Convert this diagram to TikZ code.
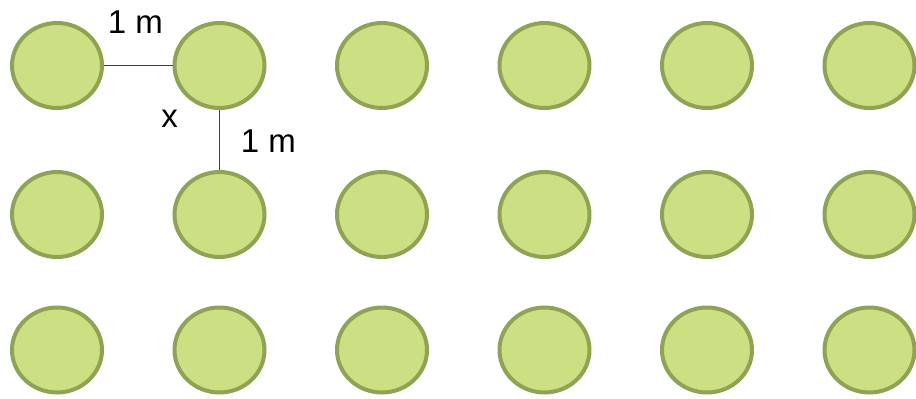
\documentclass[tikz,border=0pt]{standalone}
\usepackage{fontspec}
\setmainfont{Liberation Sans}
\usetikzlibrary{shapes.geometric}
\definecolor{leaf}{RGB}{205,223,131}
\definecolor{rim}{RGB}{143,163,84}
\definecolor{stem}{RGB}{36,82,52}

\begin{document}
\begin{tikzpicture}[x=1pt,y=-1pt,
        plant/.style={ellipse, draw=rim, fill=leaf, line width=4pt, minimum width=90pt, minimum height=85pt, inner sep=0pt},
        dim/.style={draw=stem, line width=1.5pt},
        lbl/.style={anchor=base, font=\fontsize{33}{38}\selectfont}]
        \useasboundingbox (0,0) rectangle (916,399);

        % Plants
        \foreach \r/\y in {1/65.5, 2/214.5, 3/350} {
            \foreach \c in {1,...,6} {
                \node[plant] (P\r\c) at ({57+162.5*(\c-1)}, \y) {};
            }
        }

        % Distances
        \draw[dim] (P11) -- (P12);
        \draw[dim] (P12) -- (P22);
        \node[lbl] (D1) at (135.5, 33) {1 m};
        \node[lbl] (D2) at (268.5, 152) {1 m};
        \node[lbl] (X) at (169.5, 127) {x};
\end{tikzpicture}
\end{document}
